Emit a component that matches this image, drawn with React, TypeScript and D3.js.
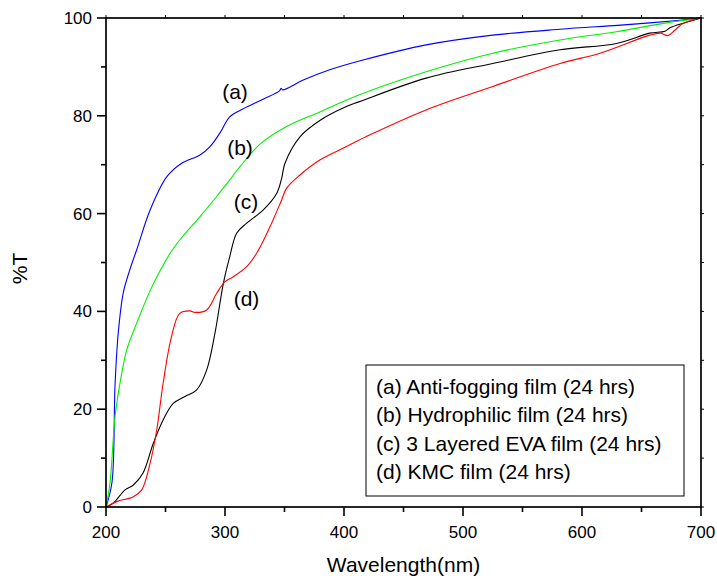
import React from "react";
import * as d3 from "d3";

const seriesNames = ["a", "b", "c", "d"];
const seriesColors = ["#0000ff", "#00ee00", "#000000", "#ff0000"];
const legendLabels = [
  "(a) Anti-fogging film (24 hrs)",
  "(b) Hydrophilic film (24 hrs)",
  "(c) 3 Layered EVA film (24 hrs)",
  "(d) KMC film (24 hrs)",
];

const seriesA: [number, number][] = [
  [200, 0], [205, 5], [207.6, 25], [210.3, 35.6], [214.5, 43.8], [220, 48.5], [225.8, 52.6],
  [237, 60.7], [251, 67.5], [263.6, 70.3], [279, 72], [287.4, 73.7], [295.8, 76.5], [304, 79.8],
  [315, 81.4], [332, 83.4], [345.8, 85.1], [347.2, 85.6], [348.6, 85.3], [365.8, 87.3], [388, 89.4],
  [416, 91.4], [469, 94.5], [525, 96.5], [581.5, 97.7], [630, 98.5], [657, 99.0], [680, 99.5], [700, 100],
];
const seriesB: [number, number][] = [
  [200, 0], [203.4, 5], [207.6, 18.5], [211.8, 25.4], [217.4, 32.1], [225.8, 37.6], [237, 44.2],
  [245, 48.1], [255, 52.3], [262, 54.6], [279, 59.4], [293, 63.5], [304, 66.9], [312.6, 69.6],
  [329.4, 74.2], [351.8, 77.8], [379.8, 80.8], [413, 84.3], [469, 89], [525, 92.8], [581.5, 95.5],
  [629, 97.2], [671, 99], [700, 100],
];
const seriesC: [number, number][] = [
  [200, 0], [206, 0.8], [216, 3.5], [223, 4.5], [231, 6.9], [239.7, 13], [248, 17.8], [256.5, 21.2],
  [266.4, 22.6], [276, 23.9], [284.6, 28], [291.6, 35.6], [298.6, 45.7], [304, 51.2], [309.8, 56],
  [318, 58], [332, 60.7], [343.4, 64.1], [347.6, 67.2], [350.4, 70.3], [363, 75.7], [380, 79.1],
  [402, 81.9], [413, 82.9], [469, 87.7], [525, 90.7], [581.5, 93.5], [629, 94.8], [657, 96.9],
  [669.7, 97.3], [674, 98], [700, 100],
];
const seriesD: [number, number][] = [
  [200, 0], [209, 1.1], [223, 2.1], [230, 3.5], [237, 8.9], [242.6, 15.7], [248, 25.3], [255, 34.8],
  [262, 39.6], [270.6, 40.1], [274.8, 39.8], [284.6, 40.3], [293, 43.7], [300, 46.1], [307, 47.1],
  [318, 49.1], [326.6, 51.9], [337.8, 57.3], [347.6, 62.8], [351.8, 65.2], [363, 67.9], [380, 71],
  [402, 73.7], [421.8, 76.1], [469, 81.2], [525, 86], [581.5, 90.7], [615, 92.8], [657, 96.5],
  [666, 96.9], [672, 96.4], [678, 97.5], [685, 98.9], [700, 100],
];
const allSeries = [seriesA, seriesB, seriesC, seriesD];

// curve annotation positions (wavelength, %T)
const annotations: [string, number, number][] = [
  ["(a)", 308.4, 84.9],
  ["(b)", 312.6, 73.4],
  ["(c)", 317.6, 62.4],
  ["(d)", 318.1, 42.7],
];

const xMajor = [200, 300, 400, 500, 600, 700];
const xMinor = [250, 350, 450, 550, 650];
const yMajor = [0, 20, 40, 60, 80, 100];
const yMinor = [10, 30, 50, 70, 90];

export default function App() {
  const W = 717, H = 587;
  const left = 106, right = 701, top = 18, bottom = 507;
  const x = d3.scaleLinear().domain([200, 700]).range([left, right]);
  const y = d3.scaleLinear().domain([0, 100]).range([bottom, top]);
  const line = d3
    .line<[number, number]>()
    .x((d) => x(d[0]))
    .y((d) => y(d[1]))
    .curve(d3.curveCatmullRom.alpha(0.5));
  const font = "Arial, 'Liberation Sans', sans-serif";
  const topTicks = d3.range(200, 701, 50);
  const rightTicks = d3.range(0, 101, 10);

  return (
    <svg
      width={W}
      height={H}
      style={{ position: "absolute", left: 0, top: 0, background: "#fff" }}
      fontFamily={font}
    >
      <rect x={0} y={0} width={W} height={H} fill="#fff" />
      {allSeries.map((s, i) => (
        <path key={seriesNames[i]} d={line(s) || ""} fill="none" stroke={seriesColors[i]} strokeWidth={1.1} />
      ))}
      {/* frame */}
      <rect x={left} y={top} width={right - left} height={bottom - top} fill="none" stroke="#000" strokeWidth={1.7} />
      {/* left ticks */}
      {yMajor.map((v) => (
        <g key={"ym" + v}>
          <line x1={left - 9} x2={left} y1={y(v)} y2={y(v)} stroke="#000" strokeWidth={1.6} />
          <text x={92} y={y(v)} dy="0.35em" textAnchor="end" fontSize={17}>
            {v}
          </text>
        </g>
      ))}
      {yMinor.map((v) => (
        <line key={"yn" + v} x1={left - 5} x2={left} y1={y(v)} y2={y(v)} stroke="#000" strokeWidth={1.6} />
      ))}
      {/* bottom ticks */}
      {xMajor.map((v) => (
        <g key={"xm" + v}>
          <line x1={x(v)} x2={x(v)} y1={bottom} y2={bottom + 9} stroke="#000" strokeWidth={1.6} />
          <text x={x(v)} y={538} textAnchor="middle" fontSize={17}>
            {v}
          </text>
        </g>
      ))}
      {xMinor.map((v) => (
        <line key={"xn" + v} x1={x(v)} x2={x(v)} y1={bottom} y2={bottom + 5} stroke="#000" strokeWidth={1.6} />
      ))}
      {/* top & right small ticks */}
      {topTicks.map((v) => (
        <line key={"t" + v} x1={x(v)} x2={x(v)} y1={top} y2={top - 3} stroke="#000" strokeWidth={1} />
      ))}
      {rightTicks.map((v) => (
        <line key={"r" + v} x1={right} x2={right + 3} y1={y(v)} y2={y(v)} stroke="#000" strokeWidth={1} />
      ))}
      {/* axis titles */}
      <text x={(left + right) / 2} y={572} textAnchor="middle" fontSize={21}>
        Wavelength(nm)
      </text>
      <text transform={`translate(27, ${(top + bottom) / 2 + 6}) rotate(-90)`} textAnchor="middle" fontSize={21}>
        %T
      </text>
      {/* annotations */}
      {annotations.map(([t, wx, wy]) => (
        <text key={t} x={x(wx)} y={y(wy)} dy="0.35em" textAnchor="middle" fontSize={21}>
          {t}
        </text>
      ))}
      {/* legend */}
      <rect x={366} y={365} width={318} height={131} fill="#fff" stroke="#000" strokeWidth={1} />
      {legendLabels.map((t, i) => (
        <text key={t} x={376} y={394 + i * 28.3} fontSize={21}>
          {t}
        </text>
      ))}
    </svg>
  );
}
